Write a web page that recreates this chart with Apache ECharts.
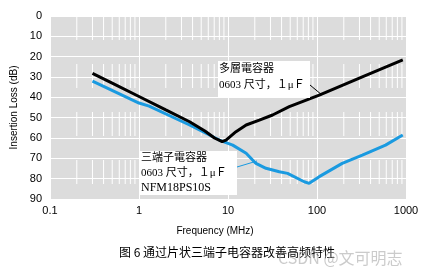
<!DOCTYPE html>
<html>
<head>
<meta charset="utf-8">
<script src="https://cdn.jsdelivr.net/npm/echarts@6/dist/echarts.min.js"></script>
<style>
  html, body { margin: 0; padding: 0; background: #fff; }
  #chart { width: 431px; height: 276px; }
</style>
</head>
<body>
<div id="chart"></div>
<script>
// frequency (MHz) / insertion loss (dB)
var mlccFreq = [0.3, 0.5, 1, 2, 3.7, 5.5, 7.05, 8.6, 9.5, 12.3, 16, 22.5, 31.7, 48.8, 106, 323, 920];
var mlccLoss = [28.2, 33.0, 39.6, 46.2, 52.0, 56.6, 60.0, 61.8, 61.0, 56.9, 53.6, 51.2, 48.7, 44.6, 38.9, 29.9, 21.6];

var nfmFreq = [0.3, 1, 1.3, 3.7, 8.0, 11.3, 16, 20.6, 26.7, 37.7, 46.7, 71.8, 81.7, 106, 192, 323, 589, 920];
var nfmLoss = [32.0, 42.8, 44.3, 53.6, 61.0, 63.5, 67.5, 72.5, 74.9, 76.6, 77.4, 81.5, 82.3, 79.0, 72.5, 68.4, 63.5, 58.5];

var xTickLabels = ['0.1', '1', '10', '100', '1000'];
var yTickLabels = ['0', '10', '20', '30', '40', '50', '60', '70', '80', '90'];

// minor grid lines (2..9 in each decade)
var decades = [0.1, 1, 10, 100];
var minorSteps = [2, 3, 4, 5, 6, 7, 8, 9];

var BLUE = '#1a9ae0';

function pairs(xs, ys) {
  var out = [];
  for (var i = 0; i < xs.length; i++) out.push([xs[i], ys[i]]);
  return out;
}

var series = [];
decades.forEach(function (d) {
  minorSteps.forEach(function (m) {
    var f = +(d * m).toPrecision(3);
    series.push({
      type: 'line',
      silent: true,
      symbol: 'none',
      animation: false,
      data: [[f, 0], [f, 90]],
      lineStyle: { color: '#ffffff', width: 1, type: [24, 24] },
      z: 1
    });
  });
});

series.push({
  name: '三端子電容器',
  type: 'line',
  symbol: 'none',
  animation: false,
  data: pairs(nfmFreq, nfmLoss),
  lineStyle: { color: BLUE, width: 3 },
  z: 3
});
series.push({
  name: '多層電容器',
  type: 'line',
  symbol: 'none',
  animation: false,
  data: pairs(mlccFreq, mlccLoss),
  lineStyle: { color: '#000000', width: 3 },
  z: 4
});

var labelFont = '"Liberation Serif", "Noto Sans CJK JP", serif';

var chart = echarts.init(document.getElementById('chart'), null, { renderer: 'canvas' });
chart.setOption({
  backgroundColor: '#ffffff',
  animation: false,
  grid: {
    left: 50, right: 25, top: 16, bottom: 77,
    show: true, backgroundColor: '#dcdcdc', borderWidth: 0
  },
  xAxis: {
    type: 'log',
    logBase: 10,
    min: 0.1,
    max: 1000,
    axisLine: { show: false },
    axisTick: { show: false },
    splitLine: { show: true, lineStyle: { color: '#ffffff', width: 1 } },
    axisLabel: {
      margin: 6,
      color: '#000',
      fontSize: 11,
      fontFamily: '"Liberation Sans", Arial, sans-serif',
      formatter: function (v) {
        var i = Math.round(Math.log10(v)) + 1;
        return xTickLabels[i];
      }
    }
  },
  yAxis: {
    type: 'value',
    inverse: true,
    min: 0,
    max: 90,
    interval: 10,
    name: 'Insertion Loss (dB)',
    nameLocation: 'middle',
    nameGap: 29,
    nameTextStyle: { color: '#000', fontSize: 10, fontFamily: '"Liberation Sans", Arial, sans-serif' },
    axisLine: { show: false },
    axisTick: { show: false },
    splitLine: { show: true, lineStyle: { color: '#ffffff', width: 1 } },
    axisLabel: {
      margin: 8,
      color: '#000',
      fontSize: 11,
      fontFamily: '"Liberation Sans", Arial, sans-serif',
      formatter: function (v) { return yTickLabels[Math.round(v / 10)]; }
    }
  },
  series: series,
  graphic: [
    // multilayer capacitor label box
    { type: 'rect', shape: { x: 218, y: 61, width: 92, height: 37 }, style: { fill: '#fff' }, z: 10 },
    { type: 'text', x: 219, y: 69, style: { text: '多層電容器', font: '11px ' + labelFont, fill: '#000', verticalAlign: 'middle' }, z: 11 },
    { type: 'text', x: 219, y: 85, style: { text: '0603 尺寸，１μＦ', font: '11px ' + labelFont, fill: '#000', verticalAlign: 'middle' }, z: 11 },
    { type: 'line', shape: { x1: 310, y1: 85, x2: 322, y2: 95 }, style: { stroke: '#000', lineWidth: 1 }, z: 11 },
    // three-terminal capacitor label box
    { type: 'rect', shape: { x: 139, y: 151, width: 98, height: 44 }, style: { fill: '#fff' }, z: 10 },
    { type: 'text', x: 141, y: 158, style: { text: '三端子電容器', font: '11px ' + labelFont, fill: '#000', verticalAlign: 'middle' }, z: 11 },
    { type: 'text', x: 141, y: 173, style: { text: '0603 尺寸，１μＦ', font: '11px ' + labelFont, fill: '#000', verticalAlign: 'middle' }, z: 11 },
    { type: 'text', x: 141, y: 188, style: { text: 'NFM18PS10S', font: '12px ' + labelFont, fill: '#000', verticalAlign: 'middle' }, z: 11 },
    { type: 'line', shape: { x1: 237, y1: 167, x2: 257, y2: 161 }, style: { stroke: BLUE, lineWidth: 1 }, z: 11 },
    // axis title and caption
    { type: 'text', x: 215, y: 231, style: { text: 'Frequency (MHz)', font: '10px "Liberation Sans", Arial, sans-serif', fill: '#000', align: 'center', verticalAlign: 'middle' } },
    { type: 'text', x: 119, y: 252, style: { text: '图 6 通过片状三端子电容器改善高频特性', font: '12px "Noto Sans CJK SC", sans-serif', fill: '#000', verticalAlign: 'middle' } },
    { type: 'text', x: 278, y: 258, style: { text: 'CSDN @文可明志', font: '16px "Noto Sans CJK SC", sans-serif', fill: 'rgba(160,160,160,0.55)', verticalAlign: 'middle' }, z: 20 }
  ]
});
</script>
</body>
</html>
